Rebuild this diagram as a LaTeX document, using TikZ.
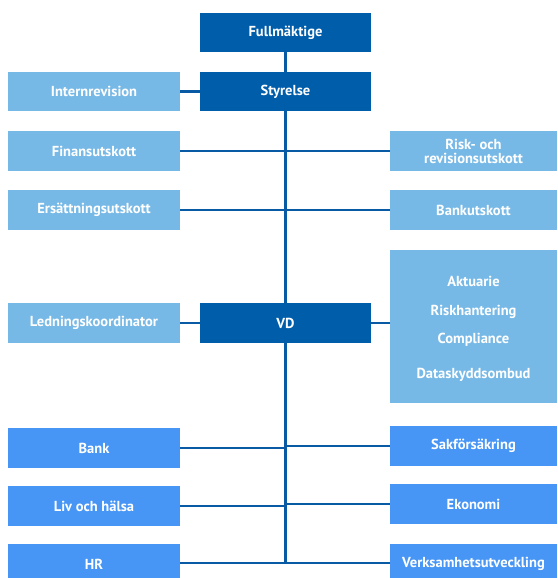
\documentclass[tikz,border=0pt]{standalone}
\usepackage{fontspec}
\setmainfont{PT Sans}
\usetikzlibrary{backgrounds}
\definecolor{dkblue}{RGB}{0,93,170}
\definecolor{ltblue}{RGB}{119,185,230}
\definecolor{mdblue}{RGB}{71,150,245}
\definecolor{lnblue}{RGB}{8,90,164}
\tikzset{
  box/.style={draw=none, inner sep=0pt, text=white, align=center,
    font=\fontsize{14.5}{15}\selectfont\bfseries},
  dk/.style={box, fill=dkblue, minimum width=171pt, minimum height=39pt},
  lt/.style={box, fill=ltblue},
  md/.style={box, fill=mdblue},
  lbox/.style={minimum width=172pt, minimum height=40pt},
  rbox/.style={minimum width=167pt, minimum height=40pt},
  lbl/.style={text=white, inner sep=0pt, font=\fontsize{14.5}{15}\selectfont\bfseries},
  conn/.style={draw=lnblue, line width=2.1pt}
}
\begin{document}
\begin{tikzpicture}[x=1pt, y=-1pt]
\useasboundingbox (0,0) rectangle (557,578);
\clip (0,0) rectangle (557,578);
% top
\node[dk] (full) at (285.5,32.5) {Fullmäktige};
\node[dk] (styr) at (285.5,91.5) {Styrelse};
\node[lt, lbox, minimum height=39pt] (intern) at (94,91.5) {Internrevision};
% committees
\node[lt, lbox] (finans) at (94,151) {Finansutskott};
\node[lt, rbox] (risk) at (473.5,151) {Risk- och\\[-1pt]revisionsutskott};
\node[lt, lbox] (ersatt) at (94,210) {Ersättningsutskott};
\node[lt, rbox] (bankut) at (473.5,210) {Bankutskott};
% VD level
\node[lt, lbox] (led) at (94,323) {Ledningskoordinator};
\node[dk, minimum height=40pt] (vd) at (285.5,323) {VD};
\node[lt, minimum width=167pt, minimum height=153pt] (big) at (473.5,326.5) {};
\node[lbl] (akt) at (473.5,281) {Aktuarie};
\node[lbl] (riskh) at (473.5,312) {Riskhantering};
\node[lbl] (compl) at (473.5,340) {Compliance};
\node[lbl] (datas) at (473.5,375) {Dataskyddsombud};
% business units
\node[md, lbox] (bank) at (94,448) {Bank};
\node[md, rbox] (sak) at (473.5,446) {Sakförsäkring};
\node[md, lbox] (liv) at (94,506) {Liv och hälsa};
\node[md, rbox] (eko) at (473.5,504) {Ekonomi};
\node[md, lbox] (hr) at (94,564) {HR};
\node[md, rbox] (verk) at (473.5,564) {Verksamhetsutveckling};
\coordinate (spineend) at (285.5,563);
\begin{scope}[on background layer]
\draw[conn] (full.south) -- (spineend);
\draw[conn] (intern.east) -- (styr.west);
\draw[conn] (finans.east) -- (risk.west);
\draw[conn] (ersatt.east) -- (bankut.west);
\draw[conn] (led.east) -- (vd.west);
\draw[conn] (vd.east) -- (vd.east -| big.west);
\draw[conn] (bank.east) -- (bank.east -| full.south);
\draw[conn] (sak.west) -- (sak.west -| full.south);
\draw[conn] (liv.east) -- (liv.east -| full.south);
\draw[conn] (eko.west) -- (eko.west -| full.south);
\draw[conn] (hr.east |- spineend) -- (verk.west |- spineend);
\end{scope}
\end{tikzpicture}
\end{document}
